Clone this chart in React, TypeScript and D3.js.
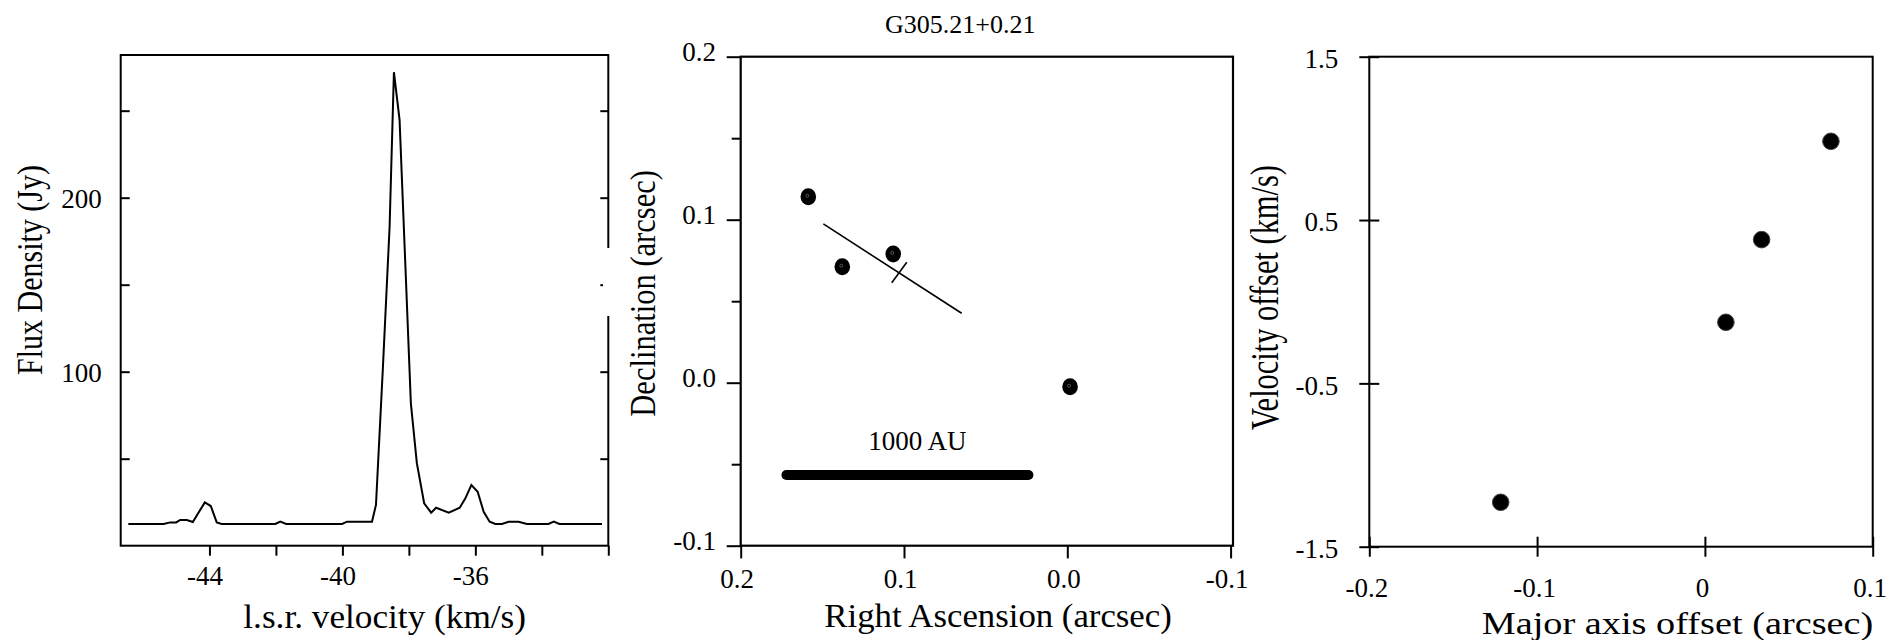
import React, { useEffect, useRef } from 'react';
import * as d3 from 'd3';

// Spectrum (left panel): l.s.r. velocity in km/s, flux density in Jy
const specVelocity = [
  -46.44, -45.38, -45.18, -45.0, -44.88, -44.68, -44.5, -44.14, -43.96, -43.78, -43.63,
  -42.02, -41.87, -41.69, -40.01, -39.86, -39.11, -38.99, -38.78, -38.58, -38.45, -38.28,
  -37.94, -37.76, -37.54, -37.33, -37.18, -36.8, -36.47, -36.3, -36.12, -35.93, -35.75,
  -35.57, -35.4, -35.2, -35.0, -34.7, -34.45, -33.8, -33.64, -33.47, -32.19,
];
const specFlux = [
  12.5, 12.5, 13.4, 13.4, 14.8, 14.8, 13.6, 24.9, 22.8, 13.4, 12.5,
  12.5, 13.8, 12.5, 12.5, 13.8, 13.8, 23.4, 102.9, 183.3, 272.1, 244.7,
  81.8, 47.4, 24.4, 19.0, 21.8, 19.0, 21.8, 27.2, 34.9, 31.0, 19.5,
  13.8, 12.5, 12.5, 13.8, 13.8, 12.5, 12.5, 13.8, 12.5, 12.5,
];
const specTicksX = [-44, -42, -40, -38, -36, -34, -32];
const specLabelsX = [-44, -40, -36];
const specTicksY = [50, 100, 150, 200, 250];
const specLabelsY = [100, 200];

// Spot map (middle panel): offsets in arcsec
const sourceName = 'G305.21+0.21';
const spotRA = [0.1586, 0.1378, 0.1066, -0.0017];
const spotDec = [0.1141, 0.0712, 0.079, -0.0025];
const fitRA = [0.1494, 0.0647];
const fitDec = [0.0974, 0.0426];
const fitMarkRA = [0.1075, 0.0983];
const fitMarkDec = [0.0613, 0.0739];
const barRA = [0.172, 0.0238];
const barDec = [-0.0566, -0.0566];
const barLabel = '1000 AU';
const mapTicks = [0.2, 0.1, 0.0, -0.1];
const mapMinorTicksY = [0.15, 0.05, -0.05];

// Position-velocity (right panel)
const pvOffset = [-0.1217, 0.0125, 0.0338, 0.0751];
const pvVelocity = [-1.228, -0.126, 0.38, 0.982];
const pvTicksX = [-0.2, -0.1, 0, 0.1];
const pvTicksY = [1.5, 0.5, -0.5, -1.5];

const serif = "'Liberation Serif', 'Times New Roman', Times, serif";

const App = () => {
  const ref = useRef<SVGSVGElement>(null);

  useEffect(() => {
    const svg = d3.select(ref.current);
    svg.selectAll('*').remove();
    svg.style('font-family', serif);

    const frame = (x0: number, x1: number, y0: number, y1: number, w: number) =>
      svg.append('rect')
        .attr('x', x0).attr('y', y0)
        .attr('width', x1 - x0).attr('height', y1 - y0)
        .attr('fill', 'none').attr('stroke', '#000').attr('stroke-width', w);

    // draw an axis and strip it down to ticks + labels
    const axis = (tx: number, ty: number, ax: any, fontSize = 27) => {
      const g = svg.append('g').attr('transform', `translate(${tx},${ty})`).call(ax);
      g.attr('font-family', null).style('font-family', serif).attr('font-size', fontSize);
      g.select('.domain').remove();
      g.selectAll('.tick line').attr('stroke', '#000').attr('stroke-width', 2);
      g.selectAll('.tick text').attr('fill', '#000').style('font-family', serif);
      return g;
    };

    const vlabel = (x: number, y: number, text: string, size: number, len: number) =>
      svg.append('text')
        .attr('transform', `translate(${x},${y}) rotate(-90)`)
        .attr('font-size', size)
        .style('font-family', serif)
        .attr('textLength', len)
        .attr('lengthAdjust', 'spacingAndGlyphs')
        .text(text);

    const hlabel = (x: number, y: number, text: string, size: number, len: number) =>
      svg.append('text')
        .attr('x', x).attr('y', y)
        .attr('font-size', size)
        .style('font-family', serif)
        .attr('textLength', len)
        .attr('lengthAdjust', 'spacingAndGlyphs')
        .text(text);

    // PANEL 1 - spectrum
    const x1 = d3.scaleLinear().domain([-46.67, -32]).range([120.7, 608.3]);
    const y1 = d3.scaleLinear().domain([0, 282]).range([545.7, 55]);

    svg.append('path')
      .datum(d3.range(specVelocity.length))
      .attr('fill', 'none')
      .attr('stroke', '#000')
      .attr('stroke-width', 2)
      .attr('d', d3.line<number>()
        .x(i => x1(specVelocity[i]))
        .y(i => y1(specFlux[i])));

    frame(120.7, 608.3, 55, 545.7, 2);

    axis(120.7, 0, d3.axisLeft(y1).tickValues(specTicksY).tickSize(-9).tickPadding(19)
      .tickFormat(d => (specLabelsY.includes(+d) ? String(d) : '')))
      .selectAll('.tick text').attr('dy', '0.35em');
    axis(608.3, 0, d3.axisRight(y1).tickValues(specTicksY).tickSize(-8).tickFormat(() => ''));
    axis(0, 545.7, d3.axisBottom(x1).tickValues(specTicksX).tickSize(10)
      .tickFormat(d => (specLabelsX.includes(+d) ? String(d) : '')))
      .selectAll('.tick text').attr('y', 39).attr('dy', 0).attr('dx', -5);

    vlabel(41.7, 375, 'Flux Density (Jy)', 35, 210);
    hlabel(243.3, 628.3, 'l.s.r. velocity (km/s)', 34, 282.7);

    // PANEL 2 - spot map
    const x2 = d3.scaleLinear().domain([0.2, -0.1]).range([740.7, 1230.6]);
    const y2 = d3.scaleLinear().domain([-0.1, 0.2]).range([545.7, 56.7]);

    // the white box behind the Declination label cuts into the first panel's frame
    svg.append('rect')
      .attr('x', 603).attr('y', 248).attr('width', 10).attr('height', 68)
      .attr('fill', '#fff');

    frame(740.7, 1233, 56.7, 545.7, 2.2);

    axis(740.7, 0, d3.axisLeft(y2).tickValues(mapTicks).tickSize(14)
      .tickFormat(d => (+d).toFixed(1)))
      .selectAll('.tick text').attr('x', -24.7).attr('dy', 3.5);
    axis(740.7, 0, d3.axisLeft(y2).tickValues(mapMinorTicksY).tickSize(9).tickFormat(() => ''));
    axis(0, 545.7, d3.axisBottom(x2).tickValues(mapTicks).tickSize(12.7)
      .tickFormat(d => (+d).toFixed(1)))
      .selectAll('.tick text').attr('y', 42.3).attr('dy', 0).attr('dx', -4);

    svg.append('line')
      .attr('x1', x2(fitRA[0])).attr('y1', y2(fitDec[0]))
      .attr('x2', x2(fitRA[1])).attr('y2', y2(fitDec[1]))
      .attr('stroke', '#000').attr('stroke-width', 1.6);
    svg.append('line')
      .attr('x1', x2(fitMarkRA[0])).attr('y1', y2(fitMarkDec[0]))
      .attr('x2', x2(fitMarkRA[1])).attr('y2', y2(fitMarkDec[1]))
      .attr('stroke', '#000').attr('stroke-width', 1.6);

    svg.append('line')
      .attr('x1', x2(barRA[0])).attr('y1', y2(barDec[0]))
      .attr('x2', x2(barRA[1])).attr('y2', y2(barDec[1]))
      .attr('stroke', '#000').attr('stroke-width', 10).attr('stroke-linecap', 'round');
    svg.append('text')
      .attr('x', x2((barRA[0] + barRA[1]) / 2) + 10)
      .attr('y', y2(barDec[0]) - 25)
      .attr('text-anchor', 'middle')
      .attr('font-size', 27)
      .style('font-family', serif)
      .text(barLabel);

    const spots = svg.append('g');
    spotRA.forEach((ra, i) => {
      spots.append('ellipse')
        .attr('cx', x2(ra)).attr('cy', y2(spotDec[i]))
        .attr('rx', 7.8).attr('ry', 8.5).attr('fill', '#000');
      spots.append('circle')
        .attr('cx', x2(ra) - 1).attr('cy', y2(spotDec[i]) - 1)
        .attr('r', 1.5).attr('fill', 'none')
        .attr('stroke', '#888').attr('stroke-width', 0.6);
    });

    svg.append('text')
      .attr('x', 960.3).attr('y', 33.3)
      .attr('text-anchor', 'middle')
      .attr('font-size', 26)
      .style('font-family', serif)
      .text(sourceName);

    vlabel(655, 416.7, 'Declination (arcsec)', 35, 246.7);
    hlabel(824.3, 626.7, 'Right Ascension (arcsec)', 33, 347.5);

    // PANEL 3 - position-velocity
    const x3 = d3.scaleLinear().domain([-0.2, 0.1]).range([1369.3, 1872.7]);
    const y3 = d3.scaleLinear().domain([-1.5, 1.5]).range([546.7, 56.7]);

    frame(1369.3, 1872.7, 56.7, 546.7, 2);

    axis(1369.3, 0, d3.axisLeft(y3).tickValues(pvTicksY).tickSize(10)
      .tickFormat(d => (+d).toFixed(1)))
      .selectAll('.tick text').attr('x', -31).attr('dy', 10.7);
    axis(1369.3, 0, d3.axisLeft(y3).tickValues(pvTicksY).tickSize(-10).tickFormat(() => ''));
    axis(0, 546.7, d3.axisBottom(x3).tickValues(pvTicksX).tickSize(10)
      .tickFormat(d => String(+d)))
      .selectAll('.tick text').attr('y', 50.5).attr('dy', 0).attr('dx', -3);
    axis(0, 546.7, d3.axisBottom(x3).tickValues(pvTicksX).tickSize(-10).tickFormat(() => ''));

    svg.append('g')
      .selectAll('circle')
      .data(d3.range(pvOffset.length))
      .enter()
      .append('circle')
      .attr('cx', i => x3(pvOffset[i]))
      .attr('cy', i => y3(pvVelocity[i]))
      .attr('r', 8.3)
      .attr('fill', '#000')
      .attr('stroke', '#444')
      .attr('stroke-width', 1);

    vlabel(1278.3, 430, 'Velocity offset (km/s)', 39, 265);
    hlabel(1481.7, 633.5, 'Major axis offset (arcsec)', 32, 391.6);
  }, []);

  return (
    <svg
      ref={ref}
      width={1889}
      height={640}
      style={{ position: 'absolute', left: 0, top: 0, background: '#fff' }}
    />
  );
};

export default App;
